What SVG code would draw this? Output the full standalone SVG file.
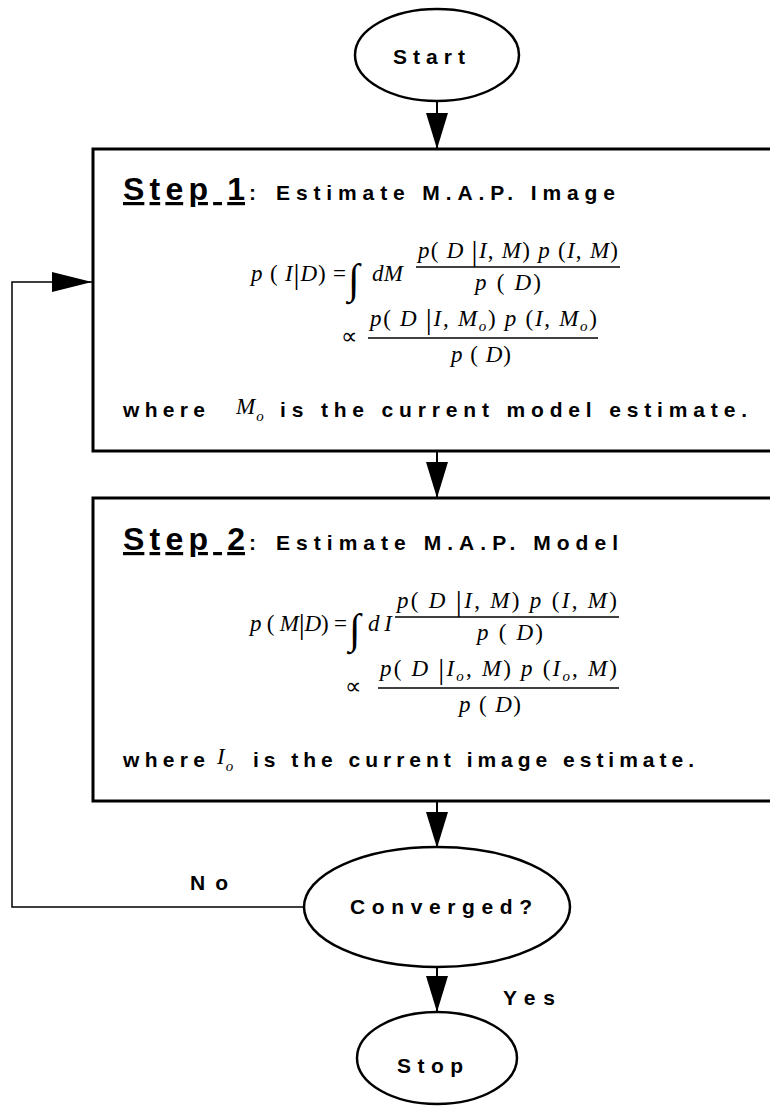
<svg xmlns="http://www.w3.org/2000/svg" width="770" height="1109" viewBox="0 0 770 1109">
<style>
.bg{fill:#fff}
.box{fill:#fff;stroke:#000;stroke-width:3}
.oval{fill:#fff;stroke:#000;stroke-width:2.5}
.lbl{font-family:"Liberation Sans",Arial,sans-serif;font-weight:bold;font-size:21px;fill:#000}
.head{font-family:"Liberation Sans",Arial,sans-serif;font-weight:bold;font-size:32px;fill:#000;text-decoration:underline}
.m{font-family:"Liberation Serif","Times New Roman",serif;font-size:23px;fill:#000}
.i{font-style:italic}
.sub{font-size:15px}
.fence{font-size:30px}
.int{font-family:"Liberation Serif","Times New Roman",serif;font-size:42px;fill:#000}
.bar{stroke:#000;stroke-width:1.5}
.edge{stroke:#000;stroke-width:2;fill:none}
.loop{stroke:#000;stroke-width:1.5;fill:none}
</style>
<defs>
  <marker id="ah" markerUnits="userSpaceOnUse" markerWidth="36" markerHeight="22" refX="36" refY="11" orient="auto">
    <path d="M0,0 L36,11 L0,22 Z" fill="#000"/>
  </marker>
  <marker id="ahl" markerUnits="userSpaceOnUse" markerWidth="40" markerHeight="20" refX="40" refY="10" orient="auto">
    <path d="M0,0 L40,10 L0,20 Z" fill="#000"/>
  </marker>
</defs>
<rect class="bg" x="0" y="0" width="770" height="1109"/>

<!-- connectors -->
<g id="connectors">
  <line class="edge" x1="437" y1="101" x2="437" y2="149" marker-end="url(#ah)"/>
  <line class="edge" x1="437" y1="451" x2="437" y2="498" marker-end="url(#ah)"/>
  <line class="edge" x1="437" y1="801" x2="437" y2="848" marker-end="url(#ah)"/>
  <line class="edge" x1="437" y1="967" x2="437" y2="1012" marker-end="url(#ah)"/>
  <polyline class="loop" points="304,907 12,907 12,282 92,282" marker-end="url(#ahl)"/>
  <text class="lbl" x="190" y="890" textLength="38" lengthAdjust="spacing">No</text>
  <text class="lbl" x="503" y="1005" textLength="52" lengthAdjust="spacing">Yes</text>
</g>

<!-- start terminal -->
<g id="start">
  <ellipse class="oval" cx="437" cy="55" rx="82" ry="46"/>
  <text class="lbl" x="393" y="64" textLength="72" lengthAdjust="spacing">Start</text>
</g>

<!-- step 1: image estimate -->
<g id="step1">
  <rect class="box" x="93" y="149" width="700" height="302"/>
  <text class="head" x="123" y="200" textLength="122" lengthAdjust="spacing">Step 1</text>
  <text class="lbl" x="249" y="200">:</text>
  <text class="lbl" x="276" y="200" textLength="339" lengthAdjust="spacing">Estimate M.A.P. Image</text>

  <text class="m" x="251" y="281" textLength="95" lengthAdjust="spacing"><tspan class="i">p</tspan> ( <tspan class="i">I</tspan><tspan class="fence" dy="3">|</tspan><tspan class="i" dy="-3">D</tspan>) =</text>
  <text class="int" x="348" y="293">∫</text>
  <text class="m i" x="372" y="281" textLength="31" lengthAdjust="spacing">dM</text>
  <text class="m" x="418" y="258" textLength="200" lengthAdjust="spacing"><tspan class="i">p</tspan>( <tspan class="i">D</tspan> <tspan class="fence" dy="3">|</tspan><tspan class="i" dy="-3">I</tspan>, <tspan class="i">M</tspan>) <tspan class="i">p</tspan> (<tspan class="i">I</tspan>, <tspan class="i">M</tspan>)</text>
  <line class="bar" x1="416" y1="267" x2="620" y2="267"/>
  <text class="m" x="475" y="290" textLength="66" lengthAdjust="spacing"><tspan class="i">p</tspan> ( <tspan class="i">D</tspan>)</text>

  <text class="m" x="341" y="344">∝</text>
  <text class="m" x="370" y="326" textLength="227" lengthAdjust="spacing"><tspan class="i">p</tspan>( <tspan class="i">D</tspan> <tspan class="fence" dy="3">|</tspan><tspan class="i" dy="-3">I</tspan>, <tspan class="i">M</tspan><tspan class="i sub" dy="5">o</tspan><tspan dy="-5">) </tspan><tspan class="i">p</tspan> (<tspan class="i">I</tspan>, <tspan class="i">M</tspan><tspan class="i sub" dy="5">o</tspan><tspan dy="-5">)</tspan></text>
  <line class="bar" x1="368" y1="338" x2="598" y2="338"/>
  <text class="m" x="451" y="362" textLength="60" lengthAdjust="spacing"><tspan class="i">p</tspan> ( <tspan class="i">D</tspan>)</text>

  <text class="lbl" x="123" y="417" textLength="82" lengthAdjust="spacing">where</text>
  <text class="m i" x="236" y="414" font-size="18">M<tspan class="sub" dx="1" dy="7">o</tspan></text>
  <text class="lbl" x="280" y="417" textLength="467" lengthAdjust="spacing">is the current model estimate.</text>
</g>

<!-- step 2: model estimate -->
<g id="step2">
  <rect class="box" x="93" y="498" width="700" height="303"/>
  <text class="head" x="123" y="550" textLength="122" lengthAdjust="spacing">Step 2</text>
  <text class="lbl" x="249" y="550">:</text>
  <text class="lbl" x="276" y="550" textLength="342" lengthAdjust="spacing">Estimate M.A.P. Model</text>

  <text class="m" x="250" y="631" textLength="97" lengthAdjust="spacing"><tspan class="i">p</tspan> ( <tspan class="i">M</tspan><tspan class="fence" dy="3">|</tspan><tspan class="i" dy="-3">D</tspan>) =</text>
  <text class="int" x="349" y="643">∫</text>
  <text class="m i" x="368" y="631" textLength="24" lengthAdjust="spacing">dI</text>
  <text class="m" x="397" y="608" textLength="220" lengthAdjust="spacing"><tspan class="i">p</tspan>( <tspan class="i">D</tspan> <tspan class="fence" dy="3">|</tspan><tspan class="i" dy="-3">I</tspan>, <tspan class="i">M</tspan>) <tspan class="i">p</tspan> (<tspan class="i">I</tspan>, <tspan class="i">M</tspan>)</text>
  <line class="bar" x1="395" y1="617" x2="619" y2="617"/>
  <text class="m" x="477" y="640" textLength="66" lengthAdjust="spacing"><tspan class="i">p</tspan> ( <tspan class="i">D</tspan>)</text>

  <text class="m" x="345" y="694">∝</text>
  <text class="m" x="380" y="676" textLength="237" lengthAdjust="spacing"><tspan class="i">p</tspan>( <tspan class="i">D</tspan> <tspan class="fence" dy="3">|</tspan><tspan class="i" dy="-3">I</tspan><tspan class="i sub" dy="5">o</tspan><tspan dy="-5">, </tspan><tspan class="i">M</tspan>) <tspan class="i">p</tspan> (<tspan class="i">I</tspan><tspan class="i sub" dy="5">o</tspan><tspan dy="-5">, </tspan><tspan class="i">M</tspan>)</text>
  <line class="bar" x1="378" y1="688" x2="619" y2="688"/>
  <text class="m" x="459" y="712" textLength="62" lengthAdjust="spacing"><tspan class="i">p</tspan> ( <tspan class="i">D</tspan>)</text>

  <text class="lbl" x="123" y="767" textLength="82" lengthAdjust="spacing">where</text>
  <text class="m i" x="217" y="764" font-size="18">I<tspan class="sub" dx="1" dy="7">o</tspan></text>
  <text class="lbl" x="253" y="767" textLength="441" lengthAdjust="spacing">is the current image estimate.</text>
</g>

<!-- convergence test -->
<g id="converged">
  <ellipse class="oval" cx="437" cy="907" rx="133" ry="60"/>
  <text class="lbl" x="350" y="914" textLength="182" lengthAdjust="spacing">Converged?</text>
</g>

<!-- stop terminal -->
<g id="stop">
  <ellipse class="oval" cx="437" cy="1058" rx="80" ry="46"/>
  <text class="lbl" x="397" y="1073" textLength="66" lengthAdjust="spacing">Stop</text>
</g>
</svg>
